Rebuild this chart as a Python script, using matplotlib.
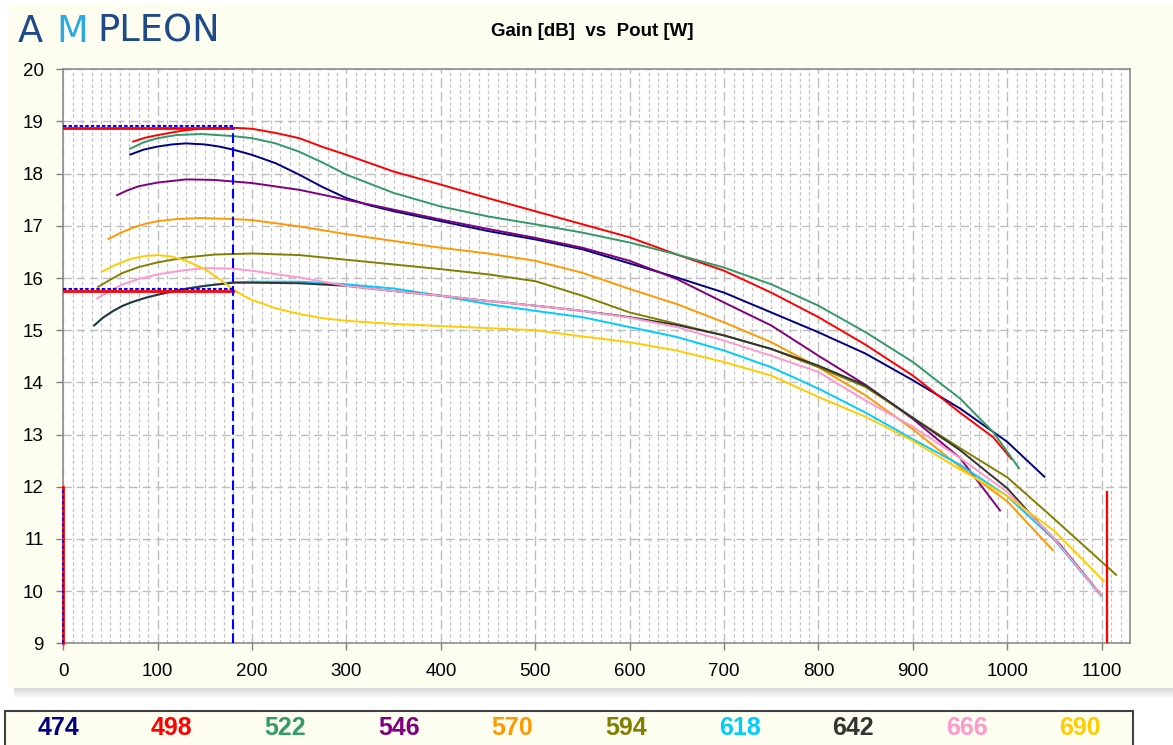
import matplotlib
matplotlib.use("Agg")
import matplotlib.pyplot as plt
import matplotlib.transforms as mtransforms
from matplotlib.patches import Rectangle
from matplotlib.ticker import MultipleLocator

plt.rcParams['lines.scale_dashes'] = False
plt.rcParams['font.family'] = ['Liberation Sans', 'DejaVu Sans']

# ---------------- data ----------------
freq_labels = ['474', '498', '522', '546', '570', '594', '618', '642', '666', '690']
series_colors = ['#000080', '#FF0000', '#339966', '#800080', '#FF9900',
                 '#808000', '#00CCFF', '#333333', '#FF99CC', '#FFCC00']

pout_474 = [70, 85, 100, 115, 130, 150, 165, 180, 200, 225, 250, 275, 300, 325, 350, 400, 450, 500, 550, 600, 650, 700, 750, 800, 850, 900, 950, 1000, 1040]
gain_474 = [18.36, 18.46, 18.52, 18.56, 18.58, 18.56, 18.52, 18.46, 18.36, 18.20, 17.98, 17.74, 17.53, 17.39, 17.28, 17.09, 16.90, 16.74, 16.55, 16.28, 16.01, 15.72, 15.34, 14.96, 14.55, 14.04, 13.50, 12.86, 12.18]

pout_498 = [73, 87, 100, 128, 150, 180, 200, 225, 250, 275, 300, 350, 400, 450, 500, 550, 600, 650, 700, 750, 800, 850, 900, 950, 985, 1005]
gain_498 = [18.61, 18.69, 18.74, 18.83, 18.87, 18.88, 18.86, 18.78, 18.68, 18.51, 18.36, 18.04, 17.79, 17.53, 17.28, 17.03, 16.78, 16.45, 16.14, 15.72, 15.25, 14.72, 14.13, 13.42, 12.95, 12.52]

pout_522 = [70, 85, 100, 120, 146, 180, 200, 225, 250, 275, 300, 350, 400, 450, 500, 550, 600, 650, 700, 750, 800, 850, 900, 950, 985, 1013]
gain_522 = [18.47, 18.60, 18.68, 18.74, 18.76, 18.72, 18.68, 18.58, 18.42, 18.21, 17.98, 17.63, 17.37, 17.18, 17.03, 16.87, 16.68, 16.45, 16.20, 15.88, 15.47, 14.96, 14.39, 13.69, 13.05, 12.34]

pout_546 = [56, 68, 80, 100, 130, 160, 180, 200, 250, 300, 350, 400, 450, 500, 550, 600, 650, 700, 750, 800, 850, 900, 950, 993]
gain_546 = [17.58, 17.68, 17.76, 17.83, 17.89, 17.88, 17.85, 17.82, 17.69, 17.50, 17.31, 17.12, 16.94, 16.77, 16.58, 16.33, 15.98, 15.53, 15.09, 14.51, 13.95, 13.30, 12.55, 11.53]

pout_570 = [47, 60, 73, 87, 100, 120, 146, 180, 200, 250, 300, 350, 400, 450, 500, 550, 600, 650, 700, 750, 800, 850, 900, 950, 1000, 1049]
gain_570 = [16.74, 16.86, 16.96, 17.04, 17.09, 17.13, 17.15, 17.13, 17.11, 16.99, 16.84, 16.71, 16.58, 16.47, 16.33, 16.10, 15.79, 15.50, 15.15, 14.77, 14.29, 13.75, 13.10, 12.38, 11.72, 10.77]

pout_594 = [36, 50, 63, 80, 100, 128, 160, 200, 250, 300, 350, 400, 450, 500, 550, 600, 650, 700, 750, 800, 850, 900, 950, 1000, 1045, 1116]
gain_594 = [15.82, 15.97, 16.10, 16.21, 16.30, 16.39, 16.45, 16.47, 16.44, 16.35, 16.26, 16.17, 16.07, 15.94, 15.66, 15.34, 15.12, 14.90, 14.64, 14.29, 13.91, 13.32, 12.74, 12.18, 11.46, 10.30]

pout_618 = [32, 42, 52, 62, 73, 87, 100, 115, 128, 150, 180, 200, 250, 300, 350, 400, 450, 500, 550, 600, 650, 700, 750, 800, 850, 900, 950, 1000, 1050, 1100]
gain_618 = [15.08, 15.24, 15.36, 15.46, 15.54, 15.62, 15.68, 15.74, 15.79, 15.85, 15.92, 15.93, 15.93, 15.88, 15.80, 15.66, 15.50, 15.37, 15.25, 15.06, 14.87, 14.61, 14.29, 13.88, 13.42, 12.91, 12.42, 11.82, 10.98, 9.90]

pout_642 = [32, 42, 52, 62, 73, 87, 100, 115, 128, 150, 180, 200, 250, 300, 350, 400, 450, 500, 550, 600, 650, 700, 750, 800, 850, 900, 950, 1000, 1035, 1056, 1100]
gain_642 = [15.08, 15.24, 15.36, 15.46, 15.54, 15.62, 15.68, 15.74, 15.79, 15.85, 15.91, 15.91, 15.90, 15.85, 15.75, 15.66, 15.56, 15.47, 15.37, 15.25, 15.10, 14.90, 14.64, 14.32, 13.94, 13.32, 12.70, 11.97, 11.27, 10.89, 9.91]

pout_666 = [35, 50, 63, 80, 100, 128, 150, 180, 200, 250, 300, 350, 400, 450, 500, 550, 600, 650, 700, 750, 800, 850, 900, 950, 1000, 1050, 1100]
gain_666 = [15.60, 15.76, 15.88, 15.98, 16.07, 16.15, 16.19, 16.18, 16.14, 16.01, 15.85, 15.75, 15.66, 15.56, 15.47, 15.37, 15.24, 15.06, 14.80, 14.51, 14.20, 13.65, 13.15, 12.55, 11.90, 11.00, 9.91]

pout_690 = [41, 55, 70, 85, 100, 115, 130, 150, 167, 180, 190, 200, 225, 250, 275, 300, 350, 400, 450, 500, 550, 600, 650, 700, 750, 800, 850, 900, 950, 1000, 1050, 1103]
gain_690 = [16.12, 16.25, 16.36, 16.42, 16.44, 16.41, 16.33, 16.17, 15.96, 15.78, 15.67, 15.58, 15.42, 15.31, 15.23, 15.18, 15.12, 15.08, 15.04, 15.00, 14.88, 14.77, 14.61, 14.39, 14.13, 13.72, 13.34, 12.88, 12.33, 11.82, 11.15, 10.18]

series_pout = [pout_474, pout_498, pout_522, pout_546, pout_570,
               pout_594, pout_618, pout_642, pout_666, pout_690]
series_gain = [gain_474, gain_498, gain_522, gain_546, gain_570,
               gain_594, gain_618, gain_642, gain_666, gain_690]

# reference markers
ref_pout = 180                    # W, vertical blue dashed line
ref_gain_levels = [18.88, 15.76]  # dB, horizontal red/blue lines
zero_mark_top = 12.0              # dB, short vertical line at Pout = 0
limit_pout = 1106                 # W, red vertical limit line
limit_gain_top = 11.9             # dB

x_min, x_max = 0, 1130
y_min, y_max = 9, 20
x_major, x_minor, y_major = 100, 10, 1

title_text = 'Gain [dB]  vs  Pout [W]'

# ---------------- figure ----------------
W, H, DPI = 1173, 745, 100
fig = plt.figure(figsize=(W / DPI, H / DPI), dpi=DPI, facecolor='white')


def fx(px):
    return px / W


def fy(py):
    return 1 - py / H


cream = '#FEFEF0'
# chart panel with bottom shadow
for k in range(10):
    a = 0.30 * (1 - k / 10)
    fig.patches.append(Rectangle((fx(14), fy(689 + k)), fx(1173) - fx(14), 1 / H,
                                 transform=fig.transFigure, facecolor='#808080',
                                 alpha=a, edgecolor='none', zorder=-11))
fig.patches.append(Rectangle((fx(8), fy(688)), fx(1173) - fx(8), fy(3) - fy(688),
                             transform=fig.transFigure, facecolor=cream,
                             edgecolor='none', zorder=-10))
# legend box
fig.patches.append(Rectangle((fx(5), fy(747)), fx(1133) - fx(5), fy(711) - fy(747),
                             transform=fig.transFigure, facecolor=cream,
                             edgecolor='#404040', linewidth=1.5, zorder=-10))

# logo
logo_dark = '#1F4A8A'
logo_light = '#2BAAE2'
logo_parts = [('A', 30, logo_dark), ('M', 72, logo_light), ('PLEON', 159, logo_dark)]
for txt, lx, col in logo_parts:
    fig.text(fx(lx), fy(41.5), txt, ha='center', va='baseline', fontsize=26.5,
             color=col, family=['DejaVu Sans'])

fig.text(fx(592), fy(32), title_text, ha='center', va='center',
         fontsize=13.5, fontweight='bold', color='#000000')

ax = fig.add_axes([fx(63.3), fy(643.3), fx(1130) - fx(63.3), fy(69.3) - fy(643.3)])
ax.set_facecolor('white')
ax.set_xlim(x_min, x_max)
ax.set_ylim(y_min, y_max)
ax.xaxis.set_major_locator(MultipleLocator(x_major))
ax.xaxis.set_minor_locator(MultipleLocator(x_minor))
ax.yaxis.set_major_locator(MultipleLocator(y_major))
ax.set_axisbelow(True)
ax.grid(which='major', axis='x', color='#BDBDBD', linestyle=(0, (7, 3)), linewidth=1.0)
ax.grid(which='minor', axis='x', color='#C4C4C4', linestyle=(0, (2.5, 1.8)), linewidth=0.9)
ax.grid(which='major', axis='y', color='#BDBDBD', linestyle=(0, (6, 3.5)), linewidth=1.0)
ax.tick_params(which='minor', length=0)
ax.tick_params(which='major', direction='out', length=5, width=1, color='#808080',
               labelsize=13.5, pad=9, labelcolor='#000000')
for s in ax.spines.values():
    s.set_color('#8C8C8C')
    s.set_linewidth(1.2)

for px_, gy_, col in zip(series_pout, series_gain, series_colors):
    ax.plot(px_, gy_, color=col, linewidth=1.4, solid_capstyle='butt',
            solid_joinstyle='round', zorder=3)

# reference lines
up = mtransforms.offset_copy(ax.transData, fig=fig, x=0, y=1.6, units='dots')
for g in ref_gain_levels:
    ax.plot([x_min, ref_pout], [g, g], color='#FF0000', linewidth=2.0, zorder=4)
    ax.plot([x_min, ref_pout], [g, g], color='#0000FF', linewidth=1.5,
            linestyle=(0, (2.5, 1.5)), transform=up, zorder=5)
ax.plot([ref_pout, ref_pout], [y_min, max(ref_gain_levels)], color='#0000FF',
        linewidth=1.5, linestyle=(0, (7, 3)), zorder=5)
ax.plot([x_min, x_min], [y_min, zero_mark_top], color='#FF0000', linewidth=2.0,
        zorder=5, clip_on=False)
ax.plot([x_min, x_min], [y_min, zero_mark_top], color='#0000FF', linewidth=1.3,
        linestyle=(0, (2, 2)), zorder=6, clip_on=False)
ax.plot([limit_pout, limit_pout], [y_min, limit_gain_top], color='#FF0000',
        linewidth=1.6, zorder=5)

# legend row
for i, (lab, col) in enumerate(zip(freq_labels, series_colors)):
    fig.text(fx(58 + 113.6 * i), fy(728), lab, ha='center', va='center',
             fontsize=18, fontweight='bold', color=col,
             family=['Liberation Sans Narrow', 'Liberation Sans'])

fig.savefig('out.png', dpi=DPI, facecolor=fig.get_facecolor())
